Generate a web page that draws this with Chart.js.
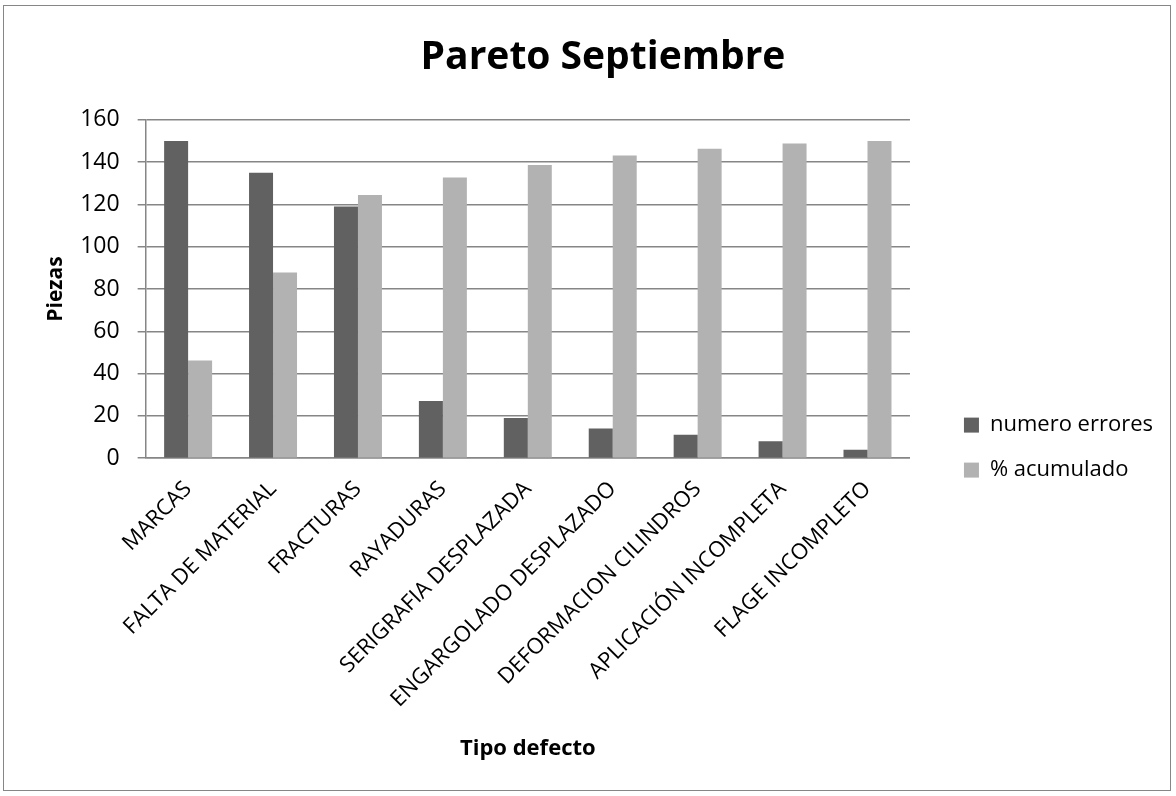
<!DOCTYPE html>
<html>
<head>
<meta charset="utf-8">
<script src="https://cdn.jsdelivr.net/npm/chart.js@4"></script>
<style>
  body { margin: 0; background: #fff; }
  #wrap { position: absolute; left: 3px; top: 5px; width: 1166px; height: 784px; border: 1px solid #868686; }
</style>
</head>
<body>
<div id="wrap"><canvas id="paretoChart" width="1166" height="784"></canvas></div>
<script>
const categories = ['MARCAS', 'FALTA DE MATERIAL', 'FRACTURAS', 'RAYADURAS', 'SERIGRAFIA DESPLAZADA',
  'ENGARGOLADO DESPLAZADO', 'DEFORMACION CILINDROS', 'APLICACIÓN INCOMPLETA', 'FLAGE INCOMPLETO'];
const numeroErrores = [150, 135, 119, 27, 19, 14, 11, 8, 4];
const acumulado = [46.2, 87.8, 124.4, 132.7, 138.6, 143.1, 146.3, 148.8, 150];
const yTicks = [0, 20, 40, 60, 80, 100, 120, 140, 160];

const fontFamily = '"Open Sans", sans-serif';
const gridColor = '#868686';

document.addEventListener('DOMContentLoaded', function () {
  const ctx = document.getElementById('paretoChart').getContext('2d');

  new Chart(ctx, {
    type: 'bar',
    data: {
      labels: categories,
      datasets: [{
        label: 'numero errores',
        data: numeroErrores,
        backgroundColor: '#616161'
      }, {
        label: '% acumulado',
        data: acumulado,
        backgroundColor: '#b2b2b2'
      }]
    },
    options: {
      responsive: false,
      animation: false,
      layout: { padding: { left: 39, right: 7, top: 10, bottom: 28 } },
      datasets: {
        bar: { categoryPercentage: 0.565, barPercentage: 1 }
      },
      plugins: {
        title: {
          display: true,
          text: 'Pareto Septiembre',
          color: '#000',
          font: { family: fontFamily, size: 39, weight: 'bold' },
          padding: { top: 18, bottom: 39 }
        },
        legend: {
          position: 'right',
          align: 'center',
          maxWidth: 300,
          title: { display: true, text: '', font: { size: 1 }, padding: { top: 58, bottom: 58 } },
          labels: {
            color: '#000',
            boxWidth: 15,
            boxHeight: 15,
            padding: 23,
            font: { family: fontFamily, size: 22 }
          }
        },
        tooltip: { enabled: false }
      },
      scales: {
        x: {
          grid: { display: false, drawTicks: false },
          border: { color: gridColor, width: 1.5 },
          ticks: {
            color: '#000',
            minRotation: 45,
            maxRotation: 45,
            padding: 18,
            font: { family: fontFamily, size: 22 }
          },
          title: {
            display: true,
            text: 'Tipo defecto',
            color: '#000',
            font: { family: fontFamily, size: 22, weight: 'bold' },
            padding: { top: 5, bottom: 0 }
          }
        },
        y: {
          min: 0,
          max: 160,
          afterBuildTicks: function (axis) {
            axis.ticks = yTicks.map(v => ({ value: v }));
          },
          grid: { color: gridColor, lineWidth: 1.5, tickLength: 8 },
          border: { color: gridColor, width: 1.5 },
          ticks: {
            color: '#000',
            padding: 18,
            font: { family: fontFamily, size: 23 }
          },
          title: {
            display: true,
            text: 'Piezas',
            color: '#000',
            font: { family: fontFamily, size: 21, weight: 'bold' },
            padding: { top: 0, bottom: -6 }
          }
        },
        // empty spacer between the plot and the legend
        gap: {
          position: 'right',
          display: true,
          grid: { display: false, drawTicks: false },
          border: { display: false },
          ticks: { display: false },
          afterFit: function (scale) { scale.width = 31; }
        }
      }
    }
  });
});
</script>
</body>
</html>
